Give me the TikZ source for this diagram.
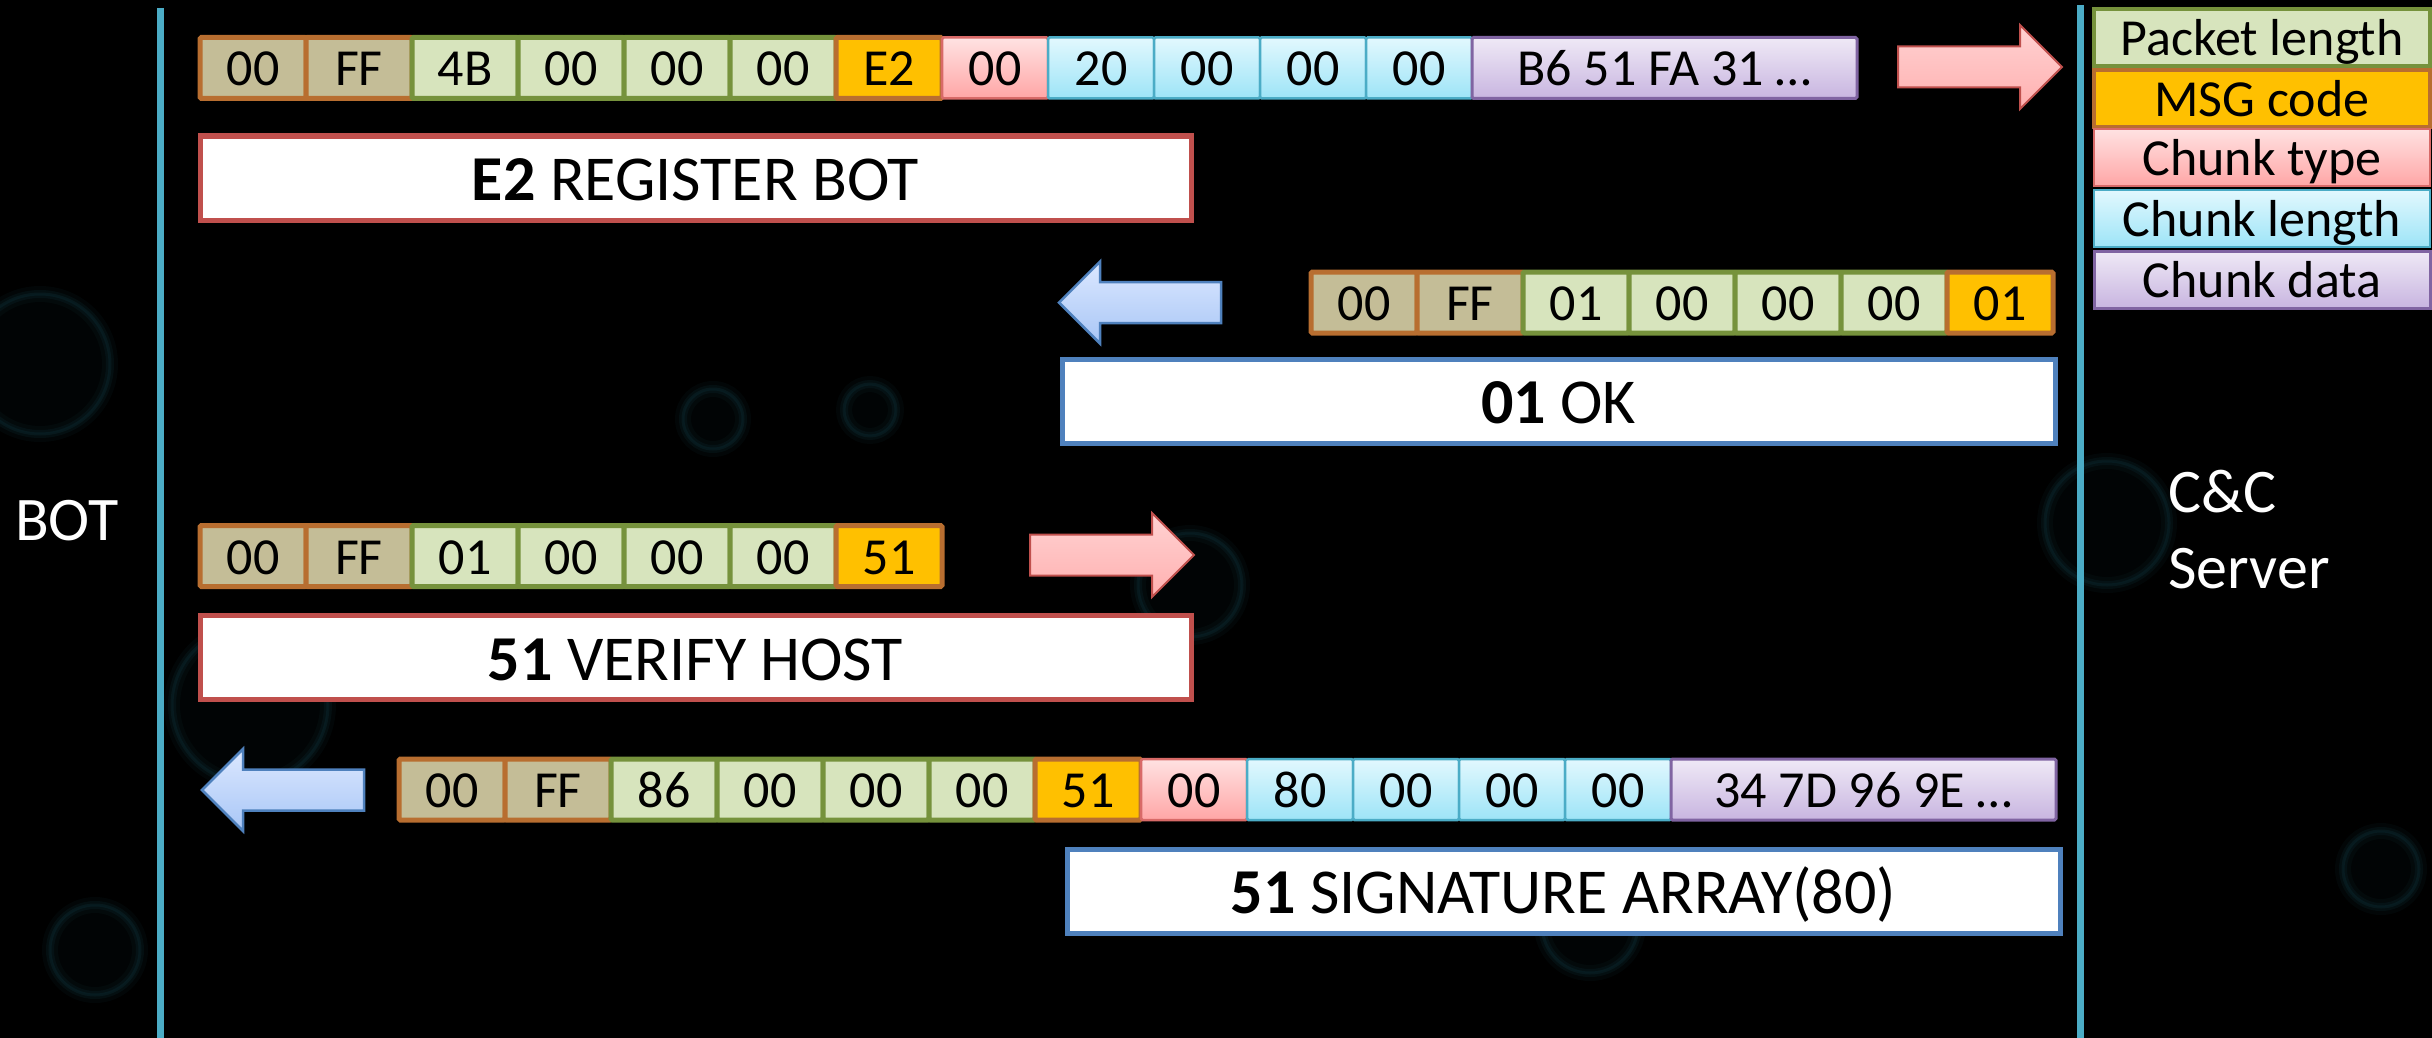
\documentclass[tikz,border=0pt]{standalone}
\usepackage{fontspec}
\setmainfont{Carlito}
\usetikzlibrary{calc}

\definecolor{tanfill}{HTML}{C4BD97}
\definecolor{brownline}{HTML}{B86E30}
\definecolor{grnfill}{HTML}{D7E4BD}
\definecolor{grnline}{HTML}{76923C}
\definecolor{msgfill}{HTML}{FFC000}
\definecolor{pinktop}{HTML}{FFE2E2}
\definecolor{pinkbot}{HTML}{FFA6A6}
\definecolor{pinkline}{HTML}{D86A68}
\definecolor{cyantop}{HTML}{E2F8FE}
\definecolor{cyanbot}{HTML}{9DE4F7}
\definecolor{cyanline}{HTML}{4BACC6}
\definecolor{purtop}{HTML}{EFE9F6}
\definecolor{purbot}{HTML}{C8B5E0}
\definecolor{purline}{HTML}{8064A2}
\definecolor{redbox}{HTML}{C0504D}
\definecolor{bluebox}{HTML}{4F81BD}
\definecolor{lifeline}{HTML}{4BACC6}
\definecolor{arrpinktop}{HTML}{FFD2D2}
\definecolor{arrpinkbot}{HTML}{FFB0B0}
\definecolor{arrbluetop}{HTML}{DCE8FF}
\definecolor{arrbluebot}{HTML}{A8C6F6}
\definecolor{virusc}{HTML}{14404A}

\newcommand\cellfont{\fontsize{52}{60}\selectfont}
\newcommand\boxfont{\fontsize{64}{76}\selectfont}
\newcommand\legfont{\fontsize{52}{60}\selectfont}
\newcommand\sidefont{\fontsize{62}{76}\selectfont}

% one packet: name prefix, left x, centre y, list of cellstyle/text
\newcommand\pktrow[4]{%
  \foreach \st/\tx [count=\i] in {#4}
    \node[\st] (#1-\i) at ({#2+(\i-1)*106}, #3) {\tx};
}

% a soft, faint microbe outline in the backdrop: x, y, radius
\newcommand\microbe[3]{%
  \draw[virusc, line width=16pt, opacity=0.10] (#1,#2) circle (#3);
  \draw[virusc, line width=8pt, opacity=0.16] (#1,#2) circle (#3);
  \draw[virusc, line width=3pt, opacity=0.22] (#1,#2) circle (#3);
  \fill[virusc, opacity=0.07] (#1,#2) circle (#3);
}

\begin{document}
\begin{tikzpicture}[x=1pt,y=-1pt,
  cell/.style={rectangle, inner sep=0pt, outer sep=0pt, anchor=west,
    minimum width=106pt, minimum height=61pt, rounded corners=1.5pt,
    font=\cellfont, text height=36pt, text depth=0pt},
  lenhead/.style={cell, fill=tanfill, draw=brownline, line width=5pt},
  lenbody/.style={cell, fill=grnfill, draw=grnline, line width=5pt},
  msgcell/.style={cell, fill=msgfill, draw=brownline, line width=5pt},
  typecell/.style={cell, top color=pinktop, bottom color=pinkbot, draw=pinkline, line width=2.5pt},
  lencell/.style={cell, top color=cyantop, bottom color=cyanbot, draw=cyanline, line width=2.5pt},
  datacell/.style={cell, top color=purtop, bottom color=purbot, draw=purline, line width=3pt, minimum width=385pt},
  msgbox/.style={rectangle, inner sep=0pt, outer sep=0pt, fill=white, line width=5pt,
    minimum height=84pt, font=\boxfont, text height=45pt, text depth=0pt},
  tobox/.style={msgbox, draw=redbox},
  frombox/.style={msgbox, draw=bluebox},
  legend/.style={rectangle, inner sep=0pt, outer sep=0pt, anchor=north west,
    minimum width=336pt, minimum height=57pt, font=\legfont, text height=36pt, text depth=0pt},
  party/.style={inner sep=0pt, anchor=base west, text=white, font=\sidefont},
  rightarrow/.pic={\path[top color=arrpinktop, bottom color=arrpinkbot, draw=redbox, line width=2pt]
    (-82,-20.5) -- (40,-20.5) -- (40,-42) -- (82,0) -- (40,42) -- (40,20.5) -- (-82,20.5) -- cycle;},
  leftarrow/.pic={\path[top color=arrbluetop, bottom color=arrbluebot, draw=bluebox, line width=2.5pt]
    (81,-20.5) -- (-40,-20.5) -- (-40,-41) -- (-81,0) -- (-40,41) -- (-40,20.5) -- (81,20.5) -- cycle;}
]
% background
\fill[black] (0,0) rectangle (2432,1038);
\useasboundingbox (0,0) rectangle (2432,1038);

% faint microbes in the backdrop
\microbe{40}{364}{70}
\microbe{713}{419}{30}
\microbe{1190}{585}{52}
\microbe{2107}{523}{62}
\microbe{2381}{869}{38}
\microbe{250}{705}{78}
\microbe{1590}{925}{48}
\microbe{870}{410}{26}
\microbe{95}{950}{45}

% lifelines
\draw[lifeline, line width=7pt] (160,8) coordinate (botTop) -- (160,1038) coordinate (botBot);
\draw[lifeline, line width=7pt] (2080,5) coordinate (srvTop) -- (2080,1038) coordinate (srvBot);

\node[party] (bot) at (15,540) {BOT};
\node[party] (cc1) at (2168,512) {C\&C};
\node[party] (cc2) at (2168,588) {Server};

% legend
\node[legend, fill=grnfill, draw=grnline, line width=4pt] (lg1) at (2094,9) {Packet length};
\node[legend, fill=msgfill, draw=brownline, line width=4pt] (lg2) at (2094,70) {MSG code};
\node[legend, top color=pinktop, bottom color=pinkbot, draw=pinkline, line width=2.5pt] (lg3) at (2094,129) {Chunk type};
\node[legend, top color=cyantop, bottom color=cyanbot, draw=cyanline, line width=2.5pt] (lg4) at (2094,190) {Chunk length};
\node[legend, top color=purtop, bottom color=purbot, draw=purline, line width=3pt] (lg5) at (2094,251) {Chunk data};

% E2 register bot  (bot -> server)
\pktrow{ra}{200}{68}{lenhead/00, lenhead/FF, lenbody/4B, lenbody/00, lenbody/00, lenbody/00,
  msgcell/E2, typecell/00, lencell/20, lencell/00, lencell/00, lencell/00}
\node[datacell] (ra-d) at (ra-12.east) {B6 51 FA 31 …};
\pic at (1980,67) {rightarrow};
\node[tobox, minimum width=991pt] (boxa) at (695.5,178) {\textbf{E2} REGISTER BOT};

% 01 OK  (server -> bot)
\pktrow{rb}{1311}{302.5}{lenhead/00, lenhead/FF, lenbody/01, lenbody/00, lenbody/00, lenbody/00, msgcell/01}
\pic at (1140,302.5) {leftarrow};
\node[frombox, minimum width=993pt] (boxb) at (1558.5,401) {\textbf{01} OK};

% 51 verify host  (bot -> server)
\pktrow{rc}{200}{556}{lenhead/00, lenhead/FF, lenbody/01, lenbody/00, lenbody/00, lenbody/00, msgcell/51}
\pic at (1112,555) {rightarrow};
\node[tobox, minimum width=991pt] (boxc) at (695.5,657.5) {\textbf{51} VERIFY HOST};

% 51 signature array  (server -> bot)
\pktrow{rd}{399}{789.5}{lenhead/00, lenhead/FF, lenbody/86, lenbody/00, lenbody/00, lenbody/00,
  msgcell/51, typecell/00, lencell/80, lencell/00, lencell/00, lencell/00}
\node[datacell] (rd-d) at (rd-12.east) {34 7D 96 9E …};
\pic at (283,790) {leftarrow};
\node[frombox, minimum width=993pt] (boxd) at (1563.5,891) {\textbf{51} SIGNATURE ARRAY(80)};
\end{tikzpicture}
\end{document}
